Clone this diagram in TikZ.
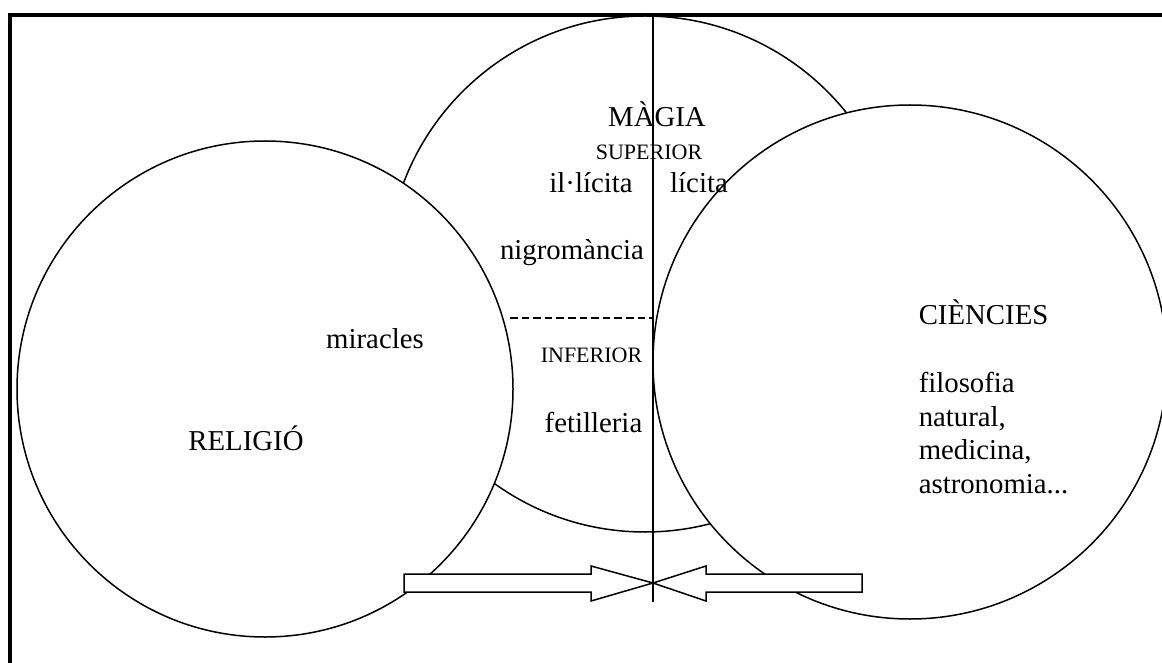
\documentclass[tikz,border=0pt]{standalone}
\usepackage{fontspec}
\setmainfont{Liberation Serif}

\begin{document}
\begin{tikzpicture}[
  x=0.5pt, y=-0.5pt, line width=0.75pt,
  cercle/.style={draw, fill=white, circle, inner sep=0pt},
  gran/.style={font=\fontsize{14.4}{17}\selectfont, inner sep=0pt},
  petit/.style={font=\fontsize{11}{13}\selectfont, inner sep=0pt},
  fletxa/.style={draw, fill=white}
]
\clip (0,0) rectangle (1162,663);

% ---- Marc ----
\draw[line width=1.6pt] (10,15) rectangle (1200,700);

% ---- Cercles (de baix a dalt) ----
\node[cercle, minimum size=258pt] (magia) at (645,274) {};
\node[cercle, minimum size=248pt] (religio) at (265,389) {};
\node[cercle, minimum size=257pt] (ciencies) at (910,362) {};

% ---- Punts de referencia ----
\coordinate (dalt) at (653,15);
\coordinate (centre) at (653,583);
\coordinate (baix) at (653,602);
\coordinate (tallL) at (510,318);

% ---- Divisions de la magia ----
\draw[dashed, dash pattern=on 3.8pt off 2pt] (tallL) -- (tallL -| dalt);

% ---- Fletxes ----
\draw[fletxa] (centre) -- ++(-62,-17) -- ++(0,8) -- ++(-187,0) -- ++(0,18) -- ++(187,0) -- ++(0,9) -- cycle;
\draw[fletxa] (centre) -- ++(53,-17) -- ++(0,8) -- ++(156,0) -- ++(0,18) -- ++(-156,0) -- ++(0,9) -- cycle;
\draw (dalt) -- (baix);

% ---- Textos: magia ----
\node[gran, anchor=base] (titolmagia) at (657,127) {MÀGIA};
\node[petit, anchor=base] (superior) at (649,160) {SUPERIOR};
\node[gran, anchor=base] (illicita) at (591,193) {il·lícita};
\node[gran, anchor=base] (licita) at (699,193) {lícita};
\node[gran, anchor=base] (nigro) at (572,260) {nigromància};
\node[petit, anchor=base east] (inferior) at (643,363) {INFERIOR};
\node[gran, anchor=base east] (fetill) at (643,432) {fetilleria};

% ---- Textos: religio ----
\node[gran, anchor=base] (miracles) at (375,349) {miracles};
\node[gran, anchor=base] (religiotxt) at (246,450) {RELIGIÓ};

% ---- Textos: ciencies ----
\node[gran, anchor=base west] (cienciestxt) at (918,324) {CIÈNCIES};
\node[gran, anchor=base west] (filo) at (918,392) {filosofia};
\node[gran, anchor=base west] (natural) at (918,426) {natural,};
\node[gran, anchor=base west] (medicina) at (918,459) {medicina,};
\node[gran, anchor=base west] (astro) at (918,493) {astronomia...};

\end{tikzpicture}
\end{document}
